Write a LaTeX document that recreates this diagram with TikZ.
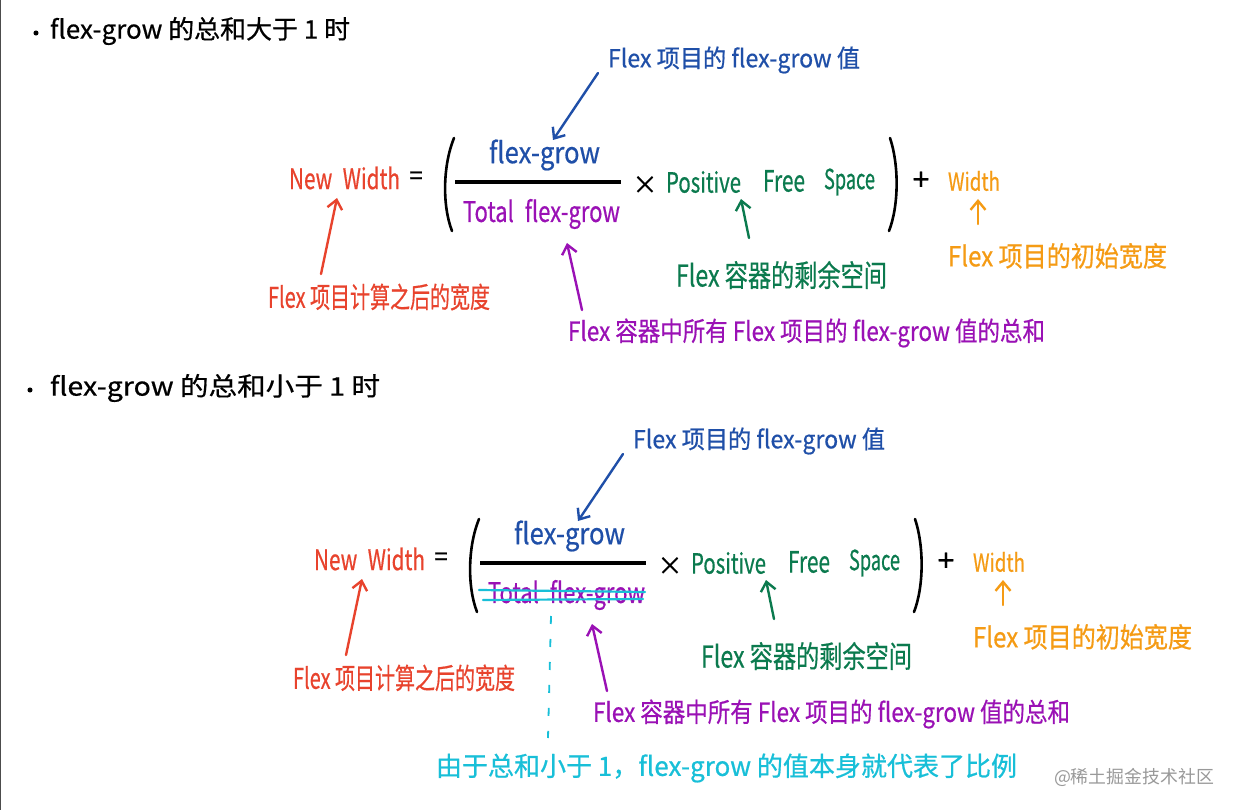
\documentclass[tikz,border=0pt]{standalone}
\usepackage{graphicx}
\usepackage{fontspec}
\setmainfont{Noto Sans CJK SC}
\newfontfamily\handfont[FakeBold=0.6]{Noto Sans CJK SC}
\usetikzlibrary{arrows.meta}
\definecolor{cred}{HTML}{E8432D}
\definecolor{cblue}{HTML}{1F4FA8}
\definecolor{cpurple}{HTML}{9A11B5}
\definecolor{cgreen}{HTML}{0B7A4E}
\definecolor{corange}{HTML}{F59B14}
\definecolor{ccyan}{HTML}{18BFD8}
\newcommand{\hw}[3]{\resizebox*{#1pt}{#2pt}{\fontsize{20pt}{24pt}\handfont #3}}
\tikzset{
  hand/.style={anchor=west,inner sep=0pt,outer sep=0pt},
  sym/.style={anchor=center,inner sep=0pt,outer sep=0pt,font=\handfont},
  barb/.style={line width=2.4pt,line cap=round,line join=round,-{Straight Barb[length=9pt,width=15pt,line width=2.4pt]}},
  brace/.style={line width=2.6pt,line cap=round},
  formula/.pic={
    \node[hand,text=cred] (nw) at (289,178) {\hw{111}{23}{New\hspace{0.5em}Width}};
    \node[sym] (eq) at (416,178) {\fontsize{24pt}{28pt}\handfont =};
    \draw[brace] (454,138) .. controls (443,165) and (442,205) .. (452,231);
    \draw[brace] (890,138) .. controls (899,165) and (899,205) .. (889,231);
    \coordinate (ruleL) at (455,182);
    \coordinate (ruleR) at (621,182);
    \draw[line width=3.4pt] (ruleL) -- (ruleR);
    \node[hand,text=cblue] (num) at (489,155) {\hw{111}{31}{flex-grow}};
    \node[hand,text=cpurple] (den) at (463,214) {\hw{157}{30}{Total\hspace{0.5em}flex-grow}};
    \node[sym] (times) at (645,185) {\fontsize{25pt}{28pt}\handfont ×};
    \node[hand,text=cgreen] (pos) at (666,182) {\hw{75}{22}{Positive}};
    \node[hand,text=cgreen] (free) at (763,181) {\hw{42}{22}{Free}};
    \node[hand,text=cgreen] (space) at (824,182) {\hw{51}{27}{Space}};
    \node[sym] (plus) at (921,181) {\fontsize{30pt}{34pt}\handfont +};
    \node[hand,text=corange] (wd) at (948,181) {\hw{52}{20}{Width}};
    \node[hand,text=cblue] (lblue) at (608,60) {\hw{252}{27}{Flex 项目的 flex-grow 值}};
    \node[hand,text=cred] (lred) at (268,297) {\hw{222}{27}{Flex 项目计算之后的宽度}};
    \node[hand,text=cpurple] (lpur) at (568,333) {\hw{477}{29}{Flex 容器中所有 Flex 项目的 flex-grow 值的总和}};
    \node[hand,text=cgreen] (lgrn) at (676,275) {\hw{211}{28}{Flex 容器的剩余空间}};
    \node[hand,text=corange] (lor) at (948,256) {\hw{219}{26}{Flex 项目的初始宽度}};
    \draw[barb,cblue] ([shift={(-10,13)}]lblue.west) -- ([shift={(64,-15)}]num.west);
    \draw[barb,cred] ([shift={(53,-23)}]lred.west) -- ([shift={(48,20)}]nw.west);
    \draw[barb,cpurple] ([shift={(14,-23)}]lpur.west) -- ([shift={(104,29)}]den.west);
    \draw[barb,cgreen] ([shift={(73,-37)}]lgrn.west) -- ([shift={(75,17)}]pos.west);
    \draw[barb,corange] ([shift={(30,-32)}]lor.west) -- ([shift={(30,18)}]wd.west);
  }
}
\begin{document}
\begin{tikzpicture}[x=1pt,y=-1pt]
\useasboundingbox (0,0) rectangle (1237,810);
\fill[white] (0,0) rectangle (1237,810);
\draw[line width=1pt,black!70] (0.5,0) -- (0.5,810);
\node[circle,fill=black,inner sep=1.8pt] (b1) at (36,33) {};
\node[hand] (h1) at (50,31) {\hw{300}{28}{flex-grow 的总和大于 1 时}};
\node[circle,fill=black,inner sep=1.8pt] (b2) at (30,390) {};
\node[hand] (h2) at (50,388) {\hw{330}{28}{flex-grow 的总和小于 1 时}};
\pic (A-) at (0,0) {formula};
\pic (B-) at (25,381) {formula};
\draw[ccyan,line width=2.2pt,line cap=round] ([shift={(-9,-5)}]B-den.west) -- ([shift={(157,-3)}]B-den.west);
\draw[ccyan,line width=2.2pt,line cap=round] ([shift={(-5,5)}]B-den.west) -- ([shift={(155,4)}]B-den.west);
\node[hand,text=ccyan] (note) at (436,768) {\hw{581}{29}{由于总和小于 1，flex-grow 的值本身就代表了比例}};
\draw[ccyan,line width=1.8pt,dash pattern=on 8pt off 15pt] ([shift={(63,21)}]B-den.west) -- ([shift={(112,-30)}]note.west);
\node[hand,text=black!40] (wm) at (1054,777) {\resizebox{160pt}{!}{\fontsize{20pt}{24pt}\selectfont @稀土掘金技术社区}};
\end{tikzpicture}
\end{document}
